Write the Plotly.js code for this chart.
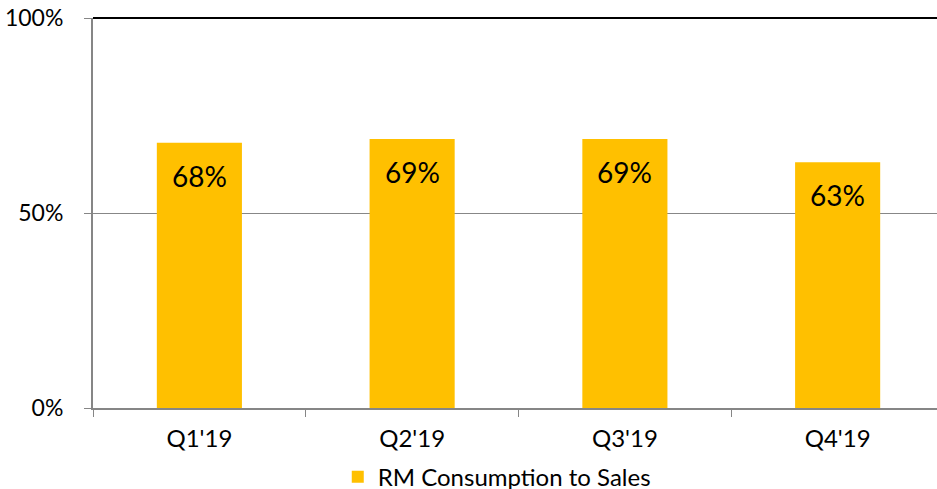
<!DOCTYPE html>
<html>
<head>
<meta charset="utf-8">
<script src="https://cdn.plot.ly/plotly-3.0.1.min.js"></script>
<style>html,body{margin:0;padding:0;background:#fff;}#chart{width:937px;height:489px;}</style>
</head>
<body>
<div id="chart"></div>
<script>
const categories = ["Q1'19", "Q2'19", "Q3'19", "Q4'19"];
const values = [68, 69, 69, 63];
const seriesName = "RM Consumption to Sales";
const yTickVals = [0, 50, 100];
const yTickText = ["0%", "50%", "100%"];

const FONT = "Lato, 'Noto Sans', sans-serif";

const trace = {
  type: 'bar',
  x: categories,
  y: values,
  name: seriesName,
  width: 0.4,
  marker: {color: '#FFC000'},
  hoverinfo: 'none'
};

const labels = categories.map((c, i) => ({
  x: c, y: values[i], xref: 'x', yref: 'y',
  text: values[i] + '%', showarrow: false,
  yanchor: 'middle', yshift: -33,
  font: {family: FONT, size: 28, color: '#000'}
}));

const layout = {
  width: 937, height: 489,
  margin: {l: 93, r: 0, t: 18, b: 81},
  paper_bgcolor: '#fff', plot_bgcolor: '#fff',
  font: {family: FONT, color: '#000'},
  showlegend: true,
  xaxis: {
    type: 'category',
    range: [-0.5, 3.467],
    showline: true, linecolor: '#868686', linewidth: 2,
    ticks: 'outside', tickson: 'boundaries', ticklen: 7, tickcolor: '#868686', tickwidth: 1,
    tickfont: {family: FONT, size: 24, color: '#000'},
    ticklabelstandoff: 8,
    showgrid: false, zeroline: false, fixedrange: true
  },
  yaxis: {
    range: [0, 100],
    tickvals: yTickVals, ticktext: yTickText,
    showline: true, linecolor: '#868686', linewidth: 2,
    ticks: 'outside', ticklen: 7, tickcolor: '#868686', tickwidth: 1,
    tickfont: {family: FONT, size: 23, color: '#000'},
    ticklabelstandoff: 16,
    showgrid: true, gridcolor: '#878787', gridwidth: 1,
    zeroline: false, fixedrange: true
  },
  legend: {
    orientation: 'h', x: 0.29, xanchor: 'left',
    yref: 'container', y: 0.07, yanchor: 'top',
    font: {family: FONT, size: 24, color: '#000'},
    itemwidth: 30, bgcolor: 'rgba(0,0,0,0)'
  },
  annotations: labels,
  shapes: [{
    type: 'line', xref: 'paper', yref: 'paper', x0: 0, x1: 1, y0: 1, y1: 1,
    line: {color: '#000', width: 2}
  }]
};

Plotly.newPlot('chart', [trace], layout, {displayModeBar: false, staticPlot: true});
</script>
</body>
</html>
